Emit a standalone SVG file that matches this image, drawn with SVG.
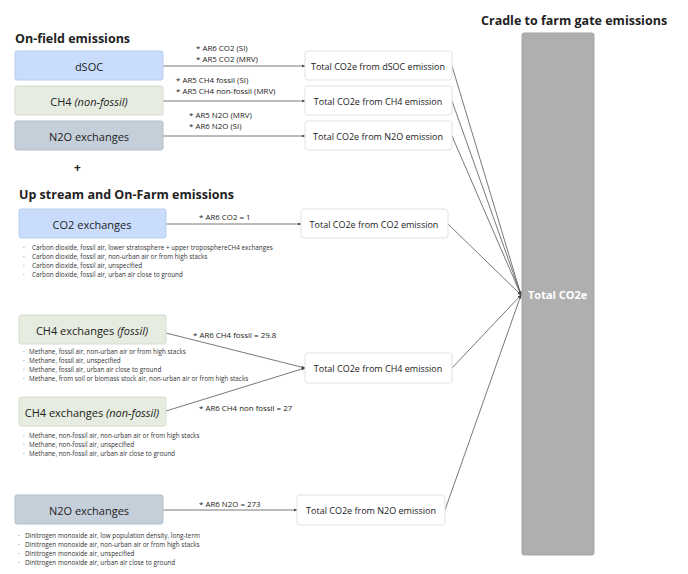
<svg xmlns="http://www.w3.org/2000/svg" width="688" height="574" viewBox="0 0 688 574">
<defs>
<marker id="ah" markerWidth="4" markerHeight="4" refX="3.5" refY="2" orient="auto" markerUnits="userSpaceOnUse"><path d="M0,0.5 L4,2 L0,3.5 z" fill="#444"/></marker>
</defs>
<style>
text{font-family:"Open Sans","Noto Sans",sans-serif;fill:#222}
.title{font-size:12.5px;font-weight:bold}
.bt{font-size:11px;text-anchor:middle;dominant-baseline:central}
.ot{font-size:9px;text-anchor:middle;dominant-baseline:central}
.lb{font-size:7.9px}
.bl{font-size:6.35px;fill:#333}
.out{fill:#fff;stroke:#e2e2e2;stroke-width:1}
.blue{fill:#c9dcfc;stroke:#b9cdee}
.green{fill:#e6ecdf;stroke:#d6ddd0}
.grey{fill:#c5cfda;stroke:#b5bfca}
.con{stroke:#555;stroke-width:0.8;fill:none}
</style>
<rect width="688" height="574" fill="#fff"/>
<text class="title" x="15" y="43">On-field emissions</text>
<text class="title" x="19" y="199">Up stream and On-Farm emissions</text>
<text class="title" x="481" y="25">Cradle to farm gate emissions</text>
<text x="74" y="172" style="font-size:12px;font-weight:bold">+</text>

<g id="connectors">
<line class="con" x1="163" y1="66" x2="305" y2="66" marker-end="url(#ah)"/>
<line class="con" x1="163" y1="101" x2="305" y2="101" marker-end="url(#ah)"/>
<line class="con" x1="163" y1="136" x2="305" y2="136" marker-end="url(#ah)"/>
<line class="con" x1="166" y1="224" x2="301" y2="224" marker-end="url(#ah)"/>
<line class="con" x1="166" y1="333" x2="305" y2="368" marker-end="url(#ah)"/>
<line class="con" x1="166" y1="411" x2="305" y2="368" marker-end="url(#ah)"/>
<line class="con" x1="163" y1="510" x2="297" y2="510" marker-end="url(#ah)"/>
<line class="con" x1="452" y1="66" x2="521" y2="295" marker-end="url(#ah)"/>
<line class="con" x1="452" y1="101" x2="521" y2="295" marker-end="url(#ah)"/>
<line class="con" x1="452" y1="136" x2="521" y2="295" marker-end="url(#ah)"/>
<line class="con" x1="448" y1="224" x2="521" y2="295" marker-end="url(#ah)"/>
<line class="con" x1="452" y1="368" x2="521" y2="295" marker-end="url(#ah)"/>
<line class="con" x1="445" y1="510" x2="521" y2="295" marker-end="url(#ah)"/>
<text class="lb" x="196" y="51">* AR6 CO2 (SI)</text>
<text class="lb" x="196" y="62">* AR5 CO2 (MRV)</text>
<text class="lb" x="176" y="83">* AR5 CH4 fossil (SI)</text>
<text class="lb" x="176" y="94">* AR5 CH4 non-fossil (MRV)</text>
<text class="lb" x="189" y="118">* AR5 N2O (MRV)</text>
<text class="lb" x="189" y="129">* AR6 N2O (SI)</text>
<text class="lb" x="199" y="220">* AR6 CO2 = 1</text>
<text class="lb" x="193" y="338">* AR6 CH4 fossil = 29.8</text>
<text class="lb" x="199" y="411">* AR6 CH4 non fossil = 27</text>
<text class="lb" x="199" y="507">* AR6 N2O = 273</text>
</g>

<g id="dsoc"><rect class="blue" x="15" y="51" width="148" height="29" rx="2"/><text class="bt" x="89" y="66">dSOC</text></g>
<g id="ch4nf"><rect class="green" x="15" y="86" width="148" height="29" rx="2"/><text class="bt" x="89" y="101">CH4 <tspan font-style="italic">(non-fossil)</tspan></text></g>
<g id="n2o1"><rect class="grey" x="15" y="121" width="148" height="29" rx="2"/><text class="bt" x="89" y="136">N2O exchanges</text></g>

<g id="out-dsoc"><rect class="out" x="305" y="51" width="147" height="29" rx="3"/><text class="ot" x="378" y="66">Total CO2e from dSOC emission</text></g>
<g id="out-ch4a"><rect class="out" x="305" y="86" width="147" height="29" rx="3"/><text class="ot" x="378" y="101">Total CO2e from CH4 emission</text></g>
<g id="out-n2oa"><rect class="out" x="305" y="121" width="147" height="29" rx="3"/><text class="ot" x="378" y="136">Total CO2e from N2O emission</text></g>

<g id="co2"><rect class="blue" x="19" y="209" width="147" height="29" rx="2"/><text class="bt" x="92" y="224">CO2 exchanges</text>
<text class="bl" x="23" y="250">·</text><text class="bl" x="32" y="250">Carbon dioxide, fossil air, lower stratosphere + upper troposphereCH4 exchanges</text>
<text class="bl" x="23" y="259">·</text><text class="bl" x="32" y="259">Carbon dioxide, fossil air, non-urban air or from high stacks</text>
<text class="bl" x="23" y="268">·</text><text class="bl" x="32" y="268">Carbon dioxide, fossil air, unspecified</text>
<text class="bl" x="23" y="277">·</text><text class="bl" x="32" y="277">Carbon dioxide, fossil air, urban air close to ground</text></g>
<g id="out-co2"><rect class="out" x="301" y="209" width="147" height="29" rx="3"/><text class="ot" x="374" y="224">Total CO2e from CO2 emission</text></g>

<g id="ch4f"><rect class="green" x="19" y="315" width="147" height="29" rx="2"/><text class="bt" x="92" y="330">CH4 exchanges <tspan font-style="italic">(fossil)</tspan></text>
<text class="bl" x="23" y="354">·</text><text class="bl" x="29" y="354">Methane, fossil air, non-urban air or from high stacks</text>
<text class="bl" x="23" y="363">·</text><text class="bl" x="29" y="363">Methane, fossil air, unspecified</text>
<text class="bl" x="23" y="372">·</text><text class="bl" x="29" y="372">Methane, fossil air, urban air close to ground</text>
<text class="bl" x="23" y="381">·</text><text class="bl" x="29" y="381">Methane, from soil or biomass stock air, non-urban air or from high stacks</text></g>
<g id="ch4nf2"><rect class="green" x="19" y="397" width="147" height="29" rx="2"/><text class="bt" x="92" y="412">CH4 exchanges <tspan font-style="italic">(non-fossil)</tspan></text>
<text class="bl" x="23" y="438">·</text><text class="bl" x="29" y="438">Methane, non-fossil air, non-urban air or from high stacks</text>
<text class="bl" x="23" y="447">·</text><text class="bl" x="29" y="447">Methane, non-fossil air, unspecified</text>
<text class="bl" x="23" y="456">·</text><text class="bl" x="29" y="456">Methane, non-fossil air, urban air close to ground</text></g>
<g id="out-ch4b"><rect class="out" x="305" y="353" width="147" height="30" rx="3"/><text class="ot" x="378" y="368">Total CO2e from CH4 emission</text></g>

<g id="n2o2"><rect class="grey" x="15" y="495" width="148" height="29" rx="2"/><text class="bt" x="89" y="510">N2O exchanges</text>
<text class="bl" x="18" y="538">·</text><text class="bl" x="25" y="538">Dinitrogen monoxide air, low population density, long-term</text>
<text class="bl" x="18" y="547">·</text><text class="bl" x="25" y="547">Dinitrogen monoxide air, non-urban air or from high stacks</text>
<text class="bl" x="18" y="556">·</text><text class="bl" x="25" y="556">Dinitrogen monoxide air, unspecified</text>
<text class="bl" x="18" y="565">·</text><text class="bl" x="25" y="565">Dinitrogen monoxide air, urban air close to ground</text></g>
<g id="out-n2ob"><rect class="out" x="297" y="495" width="148" height="30" rx="3"/><text class="ot" x="371" y="510">Total CO2e from N2O emission</text></g>

<g id="total"><rect x="522" y="33" width="72" height="522" rx="2" fill="#afafaf" stroke="#a5a5a5"/><text x="528" y="299" style="font-size:11px;font-weight:bold;fill:#fff">Total CO2e</text></g>
</svg>
